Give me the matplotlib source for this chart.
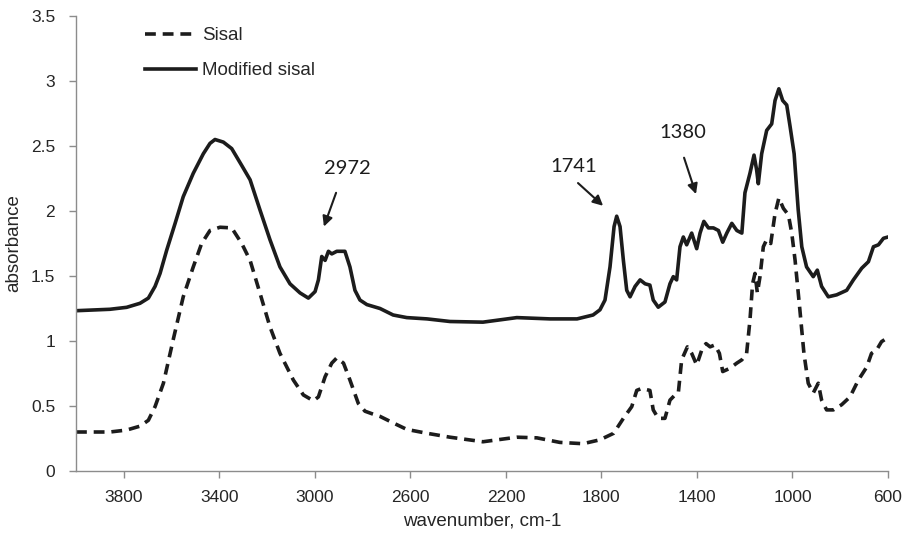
import matplotlib
matplotlib.use("Agg")
import matplotlib.pyplot as plt

# Modified sisal (solid)
mod_x = [4000, 3858, 3788, 3732, 3697, 3669, 3648, 3620, 3585, 3551, 3509, 3467, 3439, 3418,
         3383, 3348, 3306, 3271, 3230, 3188, 3146, 3104, 3062, 3027, 2999, 2985, 2971, 2957,
         2943, 2929, 2908, 2874, 2853, 2832, 2811, 2782, 2727, 2672, 2615, 2530, 2434, 2296,
         2154, 2015, 1902, 1835, 1806, 1785, 1764, 1747, 1736, 1722, 1708, 1694, 1680, 1659,
         1638, 1617, 1597, 1583, 1562, 1534, 1513, 1499, 1485, 1471, 1457, 1443, 1422, 1401,
         1387, 1371, 1352, 1331, 1310, 1292, 1275, 1254, 1233, 1212, 1199, 1178, 1161, 1150,
         1143, 1129, 1108, 1087, 1073, 1057, 1041, 1024, 1010, 993, 976, 961, 941, 913, 896,
         878, 850, 815, 773, 745, 710, 682, 661, 640, 619, 600]
mod_y = [1.233, 1.244, 1.259, 1.29, 1.33, 1.42, 1.52, 1.70, 1.905, 2.11, 2.29, 2.44, 2.52, 2.55,
         2.53, 2.48, 2.35, 2.24, 2.01, 1.78, 1.57, 1.44, 1.37, 1.33, 1.38, 1.47, 1.65, 1.62,
         1.69, 1.67, 1.69, 1.69, 1.57, 1.39, 1.315, 1.28, 1.25, 1.20, 1.18, 1.17, 1.15, 1.145,
         1.18, 1.17, 1.17, 1.20, 1.24, 1.315, 1.57, 1.88, 1.96, 1.88, 1.62, 1.39, 1.34, 1.42,
         1.47, 1.44, 1.43, 1.315, 1.26, 1.30, 1.44, 1.495, 1.47, 1.725, 1.80, 1.74, 1.83, 1.71,
         1.83, 1.92, 1.87, 1.87, 1.85, 1.76, 1.83, 1.905, 1.85, 1.83, 2.14, 2.29, 2.43, 2.315,
         2.21, 2.44, 2.62, 2.67, 2.85, 2.94, 2.85, 2.815, 2.65, 2.44, 2.01, 1.725, 1.57, 1.495,
         1.545, 1.42, 1.34, 1.355, 1.39, 1.47, 1.56, 1.61, 1.725, 1.74, 1.79, 1.80]

# Sisal (dashed)
sis_x = [4000, 3858, 3788, 3732, 3697, 3669, 3634, 3593, 3551, 3509, 3474, 3439, 3397, 3348,
         3306, 3271, 3230, 3188, 3146, 3090, 3048, 3006, 2985, 2957, 2929, 2908, 2880, 2853,
         2818, 2790, 2760, 2727, 2672, 2615, 2530, 2434, 2296, 2154, 2070, 1974, 1877, 1806,
         1749, 1708, 1673, 1652, 1632, 1597, 1583, 1562, 1534, 1513, 1492, 1478, 1464, 1440,
         1422, 1401, 1380, 1362, 1345, 1325, 1306, 1292, 1262, 1233, 1212, 1192, 1178, 1167,
         1157, 1147, 1136, 1122, 1108, 1091, 1073, 1057, 1038, 1017, 1003, 989, 969, 952, 934,
         913, 892, 878, 857, 829, 794, 759, 724, 689, 669, 648, 627, 606]
sis_y = [0.30, 0.30, 0.315, 0.345, 0.39, 0.495, 0.675, 1.01, 1.34, 1.57, 1.75, 1.85, 1.875, 1.87,
         1.75, 1.62, 1.37, 1.11, 0.905, 0.70, 0.585, 0.54, 0.57, 0.725, 0.83, 0.87, 0.83, 0.70,
         0.52, 0.46, 0.44, 0.42, 0.37, 0.32, 0.29, 0.26, 0.225, 0.26, 0.255, 0.22, 0.21, 0.24,
         0.29, 0.405, 0.495, 0.62, 0.635, 0.62, 0.47, 0.405, 0.405, 0.545, 0.585, 0.60, 0.855, 0.955,
         0.905, 0.815, 0.93, 0.98, 0.955, 0.97, 0.905, 0.765, 0.79, 0.83, 0.855, 0.905, 1.16, 1.44,
         1.52, 1.37, 1.495, 1.725, 1.78, 1.75, 1.98, 2.10, 2.02, 1.97, 1.83, 1.62, 1.24, 0.905, 0.675,
         0.60, 0.675, 0.545, 0.47, 0.47, 0.51, 0.57, 0.70, 0.80, 0.905, 0.93, 0.995, 1.02]

x_ticks = [3800, 3400, 3000, 2600, 2200, 1800, 1400, 1000, 600]
y_ticks = [0, 0.5, 1, 1.5, 2, 2.5, 3, 3.5]
y_tick_labels = ["0", "0.5", "1", "1.5", "2", "2.5", "3", "3.5"]
series_labels = ["Sisal", "Modified sisal"]
peak_labels = ["2972", "1741", "1380"]

plt.rcParams['font.family'] = ['Liberation Sans', 'DejaVu Sans']

fig = plt.figure(figsize=(9.06, 5.38), dpi=100)
ax = fig.add_axes([76/906, 1-471/538, 812/906, 455/538])

line_col = "#1c1c1c"
ax.plot(sis_x, sis_y, color=line_col, lw=2.6, linestyle=(0, (3.0, 1.9)),
        solid_joinstyle="round", dash_capstyle="butt", label=series_labels[0])
ax.plot(mod_x, mod_y, color=line_col, lw=2.6, solid_joinstyle="round",
        label=series_labels[1])

ax.set_xlim(4000, 600)
ax.set_ylim(0, 3.5)
ax.set_xticks(x_ticks)
ax.set_xticklabels([str(t) for t in x_ticks])
ax.set_yticks(y_ticks)
ax.set_yticklabels(y_tick_labels)

spine_col = "#8c8c8c"
for s in ["top", "right"]:
    ax.spines[s].set_visible(False)
for s in ["left", "bottom"]:
    ax.spines[s].set_color(spine_col)
    ax.spines[s].set_linewidth(1.0)
ax.tick_params(axis="both", colors=spine_col, labelcolor="#262626", labelsize=12.5,
               length=5, width=1.0, direction="out")
ax.tick_params(axis="y", pad=10)
ax.tick_params(axis="x", pad=9)

ax.set_xlabel("wavenumber, cm-1", fontsize=13.5, color="#262626", labelpad=5)
ax.set_ylabel("absorbance", fontsize=13.5, color="#262626", labelpad=6)

leg = ax.legend(loc="upper left", bbox_to_anchor=(0.085, 0.975), frameon=False,
                fontsize=13.5, handlelength=2.7, handletextpad=0.35,
                labelspacing=0.95, borderpad=0, borderaxespad=0)
for t in leg.get_texts():
    t.set_color("#262626")

arrow_kw = dict(arrowstyle="-|>,head_length=0.6,head_width=0.3", color="#1c1c1c", lw=1.5,
                shrinkA=0, shrinkB=0)
ann = [(peak_labels[0], (2865, 2.33), (2911, 2.14), (2962, 1.88)),
       (peak_labels[1], (1915, 2.34), (1898, 2.215), (1793, 2.04)),
       (peak_labels[2], (1459, 2.60), (1454, 2.41), (1404, 2.13))]
for lab, tpos, tail, head in ann:
    ax.text(tpos[0], tpos[1], lab, fontsize=14.5, family=["Lato", "DejaVu Sans"],
            color="#1c1c1c", ha="center", va="center")
    ax.annotate("", xy=head, xytext=tail, arrowprops=arrow_kw)

fig.savefig("out.png", dpi=100)
